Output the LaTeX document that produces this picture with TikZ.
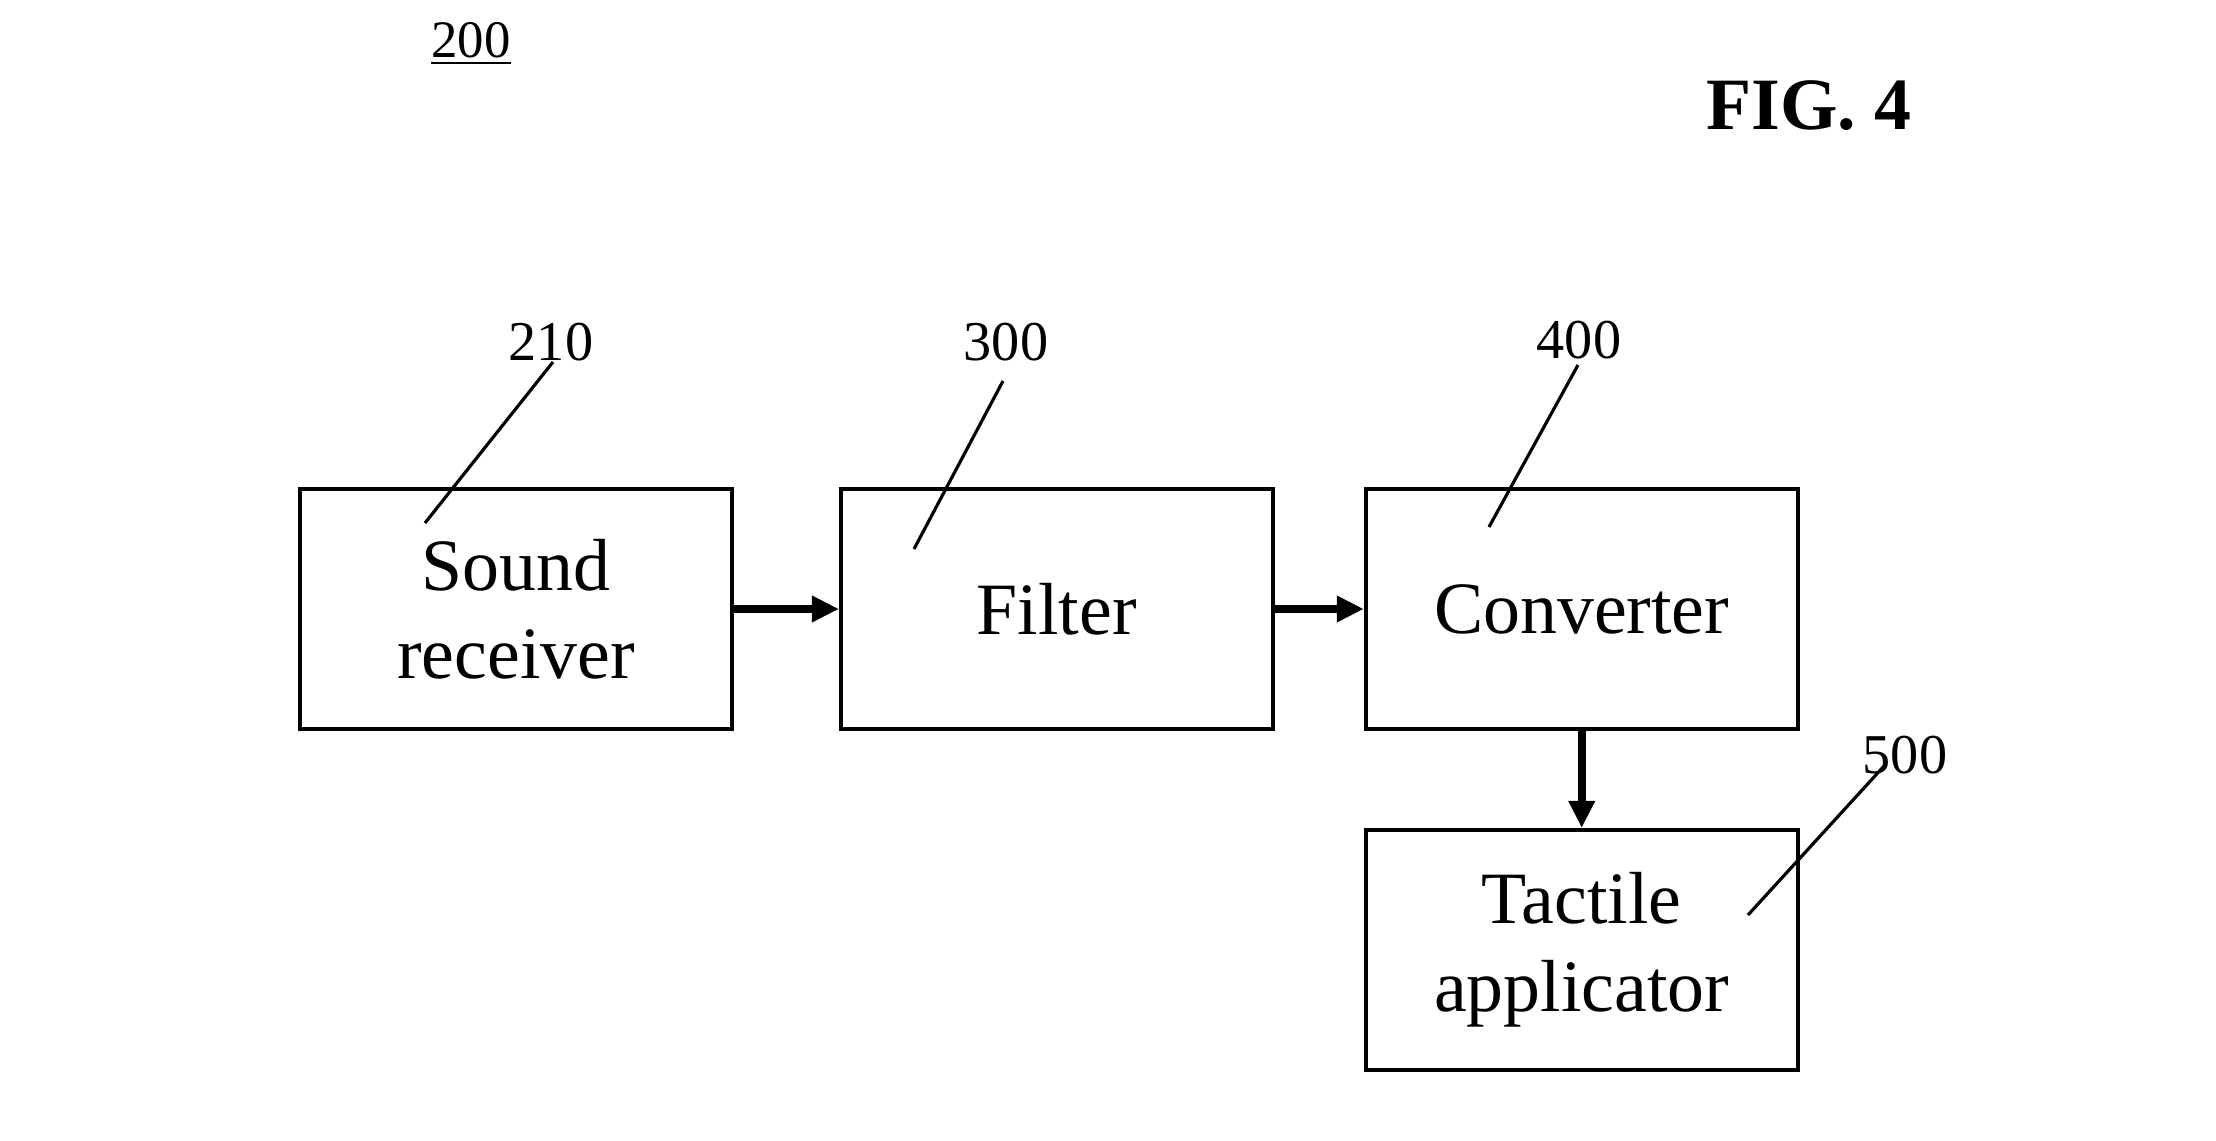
\documentclass[tikz,border=0pt]{standalone}
\usepackage{fontspec}
\setmainfont{Liberation Serif}
\usetikzlibrary{arrows.meta, positioning}

\begin{document}
\begin{tikzpicture}[
  node distance=1cm,
  block/.style={draw, line width=1.1pt, minimum width=4.32cm,
                minimum height=2.4cm, align=center, inner sep=0pt,
                font=\fontsize{21}{25}\selectfont},
  arr/.style={-{Triangle[length=0.27cm, width=0.25cm]}, line width=2.2pt},
  refnum/.style={inner sep=0pt, font=\fontsize{16}{18}\selectfont},
  leader/.style={line width=0.9pt}
]
  \useasboundingbox (0,0) rectangle (22.16,-11.41);
  \node[block] (sound) at (5.16,-6.09) {Sound\\receiver};
  \node[block, right=1.05cm of sound] (filter) {Filter};
  \node[block, right=0.89cm of filter] (conv) {Converter};
  \node[block, below=0.97cm of conv] (tact) {Tactile\\applicator};
  \draw[arr] (sound) -- (filter);
  \draw[arr] (filter) -- (conv);
  \draw[arr] (conv) -- (tact);
  % reference numerals
  \node[refnum, font=\fontsize{15}{18}\selectfont] (n200) at (4.71,-0.44) {\underline{200}};
  \node[inner sep=0pt, font=\fontsize{21}{24}\selectfont\bfseries] (fig) at (18.09,-1.06) {FIG. 4};
  \node[refnum] (n210) at (5.51,-3.42) {210};
  \node[refnum] (n300) at (10.06,-3.42) {300};
  \node[refnum] (n400) at (15.79,-3.40) {400};
  \node[refnum] (n500) at (19.05,-7.55) {500};
  \coordinate (a210) at (5.53,-3.62);  \coordinate (b210) at (4.25,-5.23);
  \coordinate (a300) at (10.03,-3.81); \coordinate (b300) at (9.14,-5.49);
  \coordinate (a400) at (15.78,-3.65); \coordinate (b400) at (14.89,-5.27);
  \coordinate (a500) at (18.85,-7.65); \coordinate (b500) at (17.48,-9.15);
  \draw[leader] (a210) -- (b210);
  \draw[leader] (a300) -- (b300);
  \draw[leader] (a400) -- (b400);
  \draw[leader] (a500) -- (b500);
\end{tikzpicture}
\end{document}
